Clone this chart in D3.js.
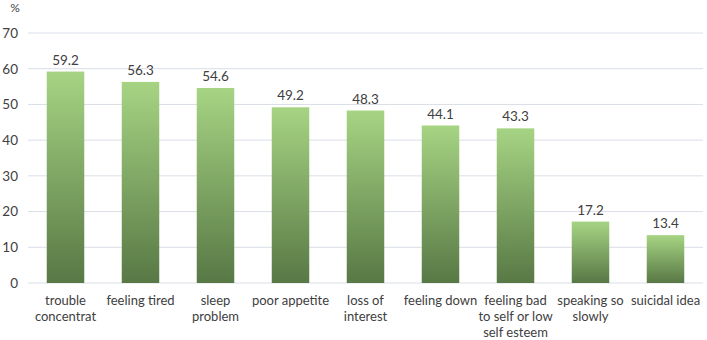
<!DOCTYPE html>
<html>
<head>
<meta charset="utf-8">
<script src="https://cdn.jsdelivr.net/npm/d3@7"></script>
<style>
  body { margin: 0; background: #fff; }
  text { font-family: Lato, "Open Sans", sans-serif; fill: #404040; }
</style>
</head>
<body>
<div id="vis-container"></div>
<script>
// categories (line breaks as in the picture) and values in %
const categories = [
  "trouble|concentrat", "feeling tired", "sleep|problem", "poor appetite",
  "loss of|interest", "feeling down", "feeling bad|to self or low|self esteem",
  "speaking so|slowly", "suicidal idea"
]
const values = [59.2, 56.3, 54.6, 49.2, 48.3, 44.1, 43.3, 17.2, 13.4]
const yTicks = [0, 10, 20, 30, 40, 50, 60, 70]

let width = 707, height = 340
let margins = { top: 33, right: 4, bottom: 57, left: 28 }
let visWidth = width - margins.left - margins.right
let visHeight = height - margins.top - margins.bottom

let svg = d3.select("#vis-container").append("svg")
  .attr("width", width).attr("height", height)

// gradient per bar: light green on top, darker at the bottom
let grad = svg.append("defs").append("linearGradient")
  .attr("id", "barGrad").attr("x1", 0).attr("y1", 0).attr("x2", 0).attr("y2", 1)
grad.append("stop").attr("offset", "0%").attr("stop-color", "#a6d483")
grad.append("stop").attr("offset", "100%").attr("stop-color", "#587845")

let data = categories.map((c, i) => ({ cat: c, val: values[i] }))

let x = d3.scaleBand().domain(categories).range([0, visWidth]).paddingInner(0.5).paddingOuter(0.25)
let y = d3.scaleLinear().domain([0, 70]).range([visHeight, 0])

let viewport = svg.append("g").attr("transform", "translate(" + margins.left + "," + margins.top + ")")

// gridlines
viewport.append("g").selectAll("line").data(yTicks).join("line")
  .attr("x1", 0).attr("x2", visWidth)
  .attr("y1", d => y(d)).attr("y2", d => y(d))
  .attr("stroke", "#d9dee6").attr("stroke-width", 1)

// y axis labels
let yAxis = viewport.append("g").call(d3.axisLeft(y).tickValues(yTicks).tickSize(0).tickPadding(10))
yAxis.select(".domain").remove()
yAxis.selectAll("text").style("font-size", "13.5px").style("font-family", "Lato, sans-serif").attr("fill", "#404040")

// bars
viewport.append("g").selectAll("rect").data(data).join("rect")
  .attr("x", d => x(d.cat)).attr("width", x.bandwidth())
  .attr("y", d => y(d.val)).attr("height", d => visHeight - y(d.val))
  .attr("fill", "url(#barGrad)")

// value labels
viewport.append("g").selectAll("text").data(data).join("text")
  .attr("x", d => x(d.cat) + x.bandwidth() / 2).attr("y", d => y(d.val) - 7)
  .attr("text-anchor", "middle").style("font-size", "13.5px")
  .text(d => d.val.toFixed(1))

// category labels, one text per line
let catG = viewport.append("g").attr("transform", "translate(0," + visHeight + ")")
categories.forEach(c => {
  c.split("|").forEach((line, i) => {
    catG.append("text")
      .attr("x", x(c) + x.bandwidth() / 2).attr("y", 22 + i * 16)
      .attr("text-anchor", "middle").style("font-size", "13px")
      .text(line)
  })
})

// unit
svg.append("text").attr("x", 15).attr("y", 12).attr("text-anchor", "middle")
  .style("font-size", "12px").attr("fill", "#1f3864").text("%")
</script>
</body>
</html>
